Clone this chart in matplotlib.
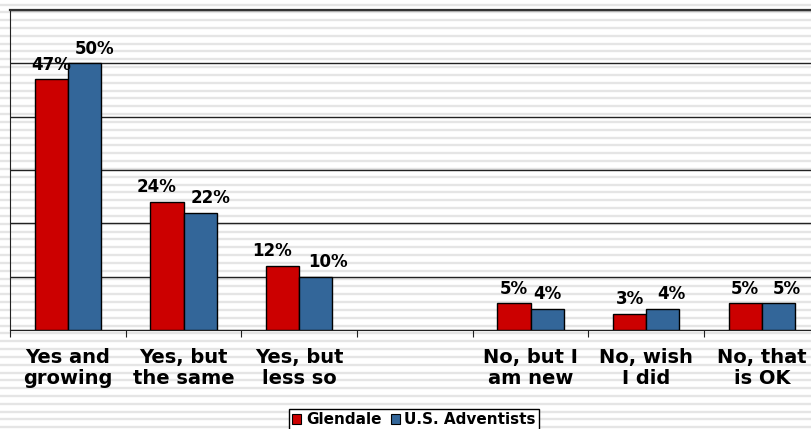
import numpy as np
import matplotlib.pyplot as plt

kategorien = ['Yes and\ngrowing', 'Yes, but\nthe same', 'Yes, but\nless so', '',
              'No, but I\nam new', 'No, wish\nI did', 'No, that\nis OK']
glendale = [47, 24, 12, None, 5, 3, 5]
us_adventists = [50, 22, 10, None, 4, 4, 5]
serien = ['Glendale', 'U.S. Adventists']

# seitliche Verschiebung der Wertebeschriftungen (Pixel), wie im Original
versatz_rot = [0, -10, -10, 0, 0, 0, 0]
versatz_blau = [10, 10, 12, 0, 0, 9, 8]

farbe_rot = '#cc0000'
farbe_blau = '#336699'

B, H = 812, 429
fig = plt.figure(figsize=(B / 100, H / 100), dpi=100)
fig.patch.set_facecolor('white')

# Hintergrund mit horizontalen Streifen
bg = fig.add_axes([0, 0, 1, 1], zorder=-5)
bg.set_xlim(0, B)
bg.set_ylim(H, 0)
bg.axis('off')
for y in np.arange(4.5, H, 7.83):
    bg.axhline(y, color='#e5e5e5', lw=1.7)

# Plotbereich
links, oben, unten = 10, 10, 330
schritt = 115.67  # Pixel pro Kategorie
ax = fig.add_axes([links / B, (H - unten) / H, 1 - links / B, (unten - oben) / H])
ax.set_facecolor('none')
ax.set_yticks(np.arange(0, 61, 10))
ax.set_yticklabels([])
ax.tick_params(axis='y', length=0)
ax.grid(axis='y', color='#222222', lw=1)
ax.set_axisbelow(True)
ax.spines['right'].set_visible(False)
ax.spines['top'].set_linewidth(1.6)
ax.spines['top'].set_color('#333333')
ax.spines['left'].set_color('#222222')
ax.spines['bottom'].set_color('#222222')

x = np.arange(len(kategorien))
breite = 0.288
for i in range(len(kategorien)):
    if glendale[i] is None:
        continue
    ax.bar(x[i] - breite / 2, glendale[i], breite, color=farbe_rot, edgecolor='black', lw=1, zorder=3)
    ax.bar(x[i] + breite / 2, us_adventists[i], breite, color=farbe_blau, edgecolor='black', lw=1, zorder=3)
    ax.annotate('{}%'.format(glendale[i]), (x[i] - breite / 2, glendale[i]),
                xytext=(versatz_rot[i] * 0.72, 4), textcoords='offset points',
                ha='center', va='bottom', fontsize=12, fontweight='bold', zorder=4)
    ax.annotate('{}%'.format(us_adventists[i]), (x[i] + breite / 2, us_adventists[i]),
                xytext=(versatz_blau[i] * 0.72, 4), textcoords='offset points',
                ha='center', va='bottom', fontsize=12, fontweight='bold', zorder=4)

# Trennstriche zwischen Kategorien
ax.set_xticks(np.arange(-0.5, len(kategorien), 1))
ax.set_xticklabels([])
ax.tick_params(axis='x', which='major', direction='out', length=5, color='#222222')
ax.set_xticks(x, minor=True)
ax.set_xticklabels(kategorien, minor=True, fontsize=14, fontweight='bold', linespacing=1.1)
ax.tick_params(axis='x', which='minor', length=0, pad=13)

# Grenzen erst nach den Ticks setzen
ax.set_ylim(0, 60)
ax.set_xlim(-0.5, (B - links) / schritt - 0.5)

# Legende
handles = [plt.Rectangle((0, 0), 1, 1, facecolor=farbe_rot, edgecolor='black', lw=0.8),
           plt.Rectangle((0, 0), 1, 1, facecolor=farbe_blau, edgecolor='black', lw=0.8)]
leg = fig.legend(handles, serien, loc='upper center', bbox_to_anchor=(414 / B, 1 - 409 / H),
                 ncol=2, fancybox=False, framealpha=1, edgecolor='black',
                 prop={'weight': 'bold', 'size': 11}, handlelength=0.6, handleheight=0.6,
                 handletextpad=0.3, columnspacing=0.6, borderpad=0.2, borderaxespad=0)
leg.get_frame().set_linewidth(1)

fig.savefig('out.png', dpi=100)
